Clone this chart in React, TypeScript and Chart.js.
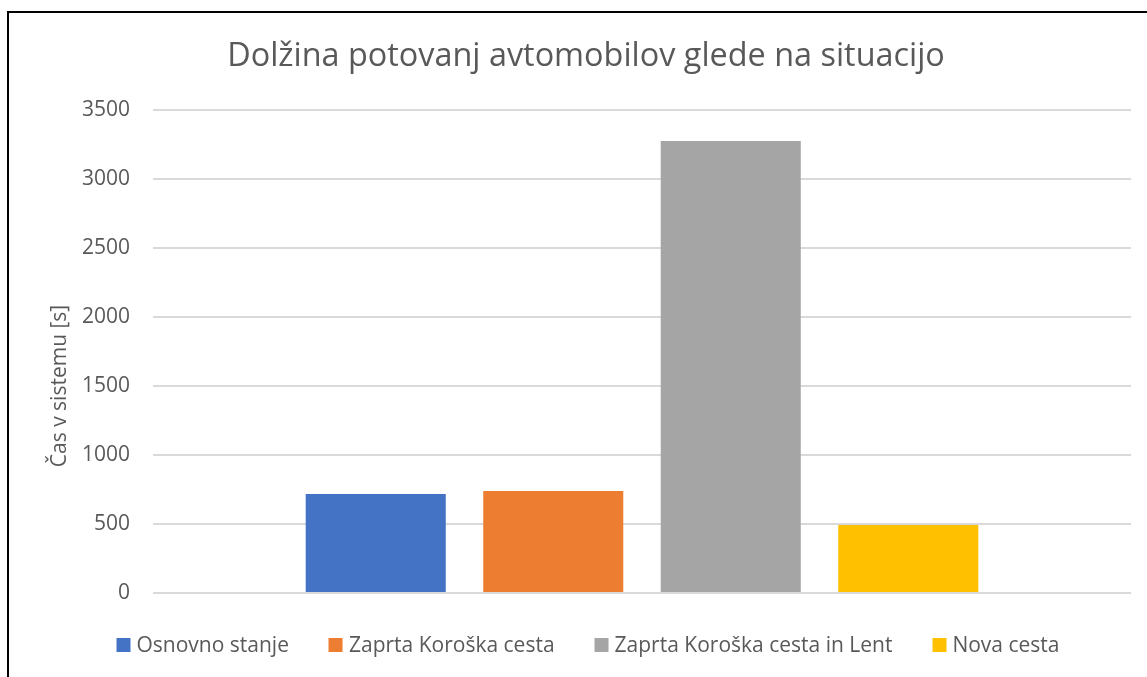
import React, { useEffect, useRef } from "react";
import { Chart, registerables } from "chart.js";

Chart.register(...registerables);

const titleText = "Dolžina potovanj avtomobilov glede na situacijo";
const yAxisTitle = "Čas v sistemu [s]";
const categories = [""];
const seriesNames = [
  "Osnovno stanje",
  "Zaprta Koroška cesta",
  "Zaprta Koroška cesta in Lent",
  "Nova cesta",
];
const seriesValues = [717, 739, 3275, 493];
const seriesColors = ["#4472C4", "#ED7D31", "#A5A5A5", "#FFC000"];
const yMin = 0;
const yMax = 3500;
const yStep = 500;

const FONT = "'Open Sans', sans-serif";
const TEXT = "#595959";

export default function App() {
  const canvasRef = useRef<HTMLCanvasElement | null>(null);

  useEffect(() => {
    document.body.style.margin = "0";
    const ctx = canvasRef.current;
    if (!ctx) return;
    const chart = new Chart(ctx, {
      type: "bar",
      data: {
        labels: categories,
        datasets: seriesNames.map((name, i) => ({
          label: name,
          data: [seriesValues[i]],
          backgroundColor: seriesColors[i],
          borderWidth: 0,
          categoryPercentage: 0.726,
          barPercentage: 0.789,
        })),
      },
      options: {
        animation: false,
        responsive: false,
        maintainAspectRatio: false,
        layout: { padding: { top: 110, right: 16, left: 0, bottom: 0 } },
        plugins: {
          legend: { display: false },
          title: { display: false },
          tooltip: { enabled: false },
        },
        scales: {
          x: {
            offset: true,
            grid: { display: false },
            border: { display: false },
            ticks: { display: false },
            afterFit: (scale: any) => {
              scale.height = 84;
            },
          },
          y: {
            min: yMin,
            max: yMax,
            border: { display: false },
            grid: { color: "#D9D9D9", lineWidth: 2, drawTicks: false },
            ticks: {
              stepSize: yStep,
              padding: 23,
              color: TEXT,
              font: { family: FONT, size: 21 },
              callback: (v: any) => String(v),
            },
            afterFit: (scale: any) => {
              scale.width = 153;
            },
          },
        },
      },
    });
    return () => chart.destroy();
  }, []);

  return (
    <div style={{ position: "relative", width: 1147, height: 677, overflow: "hidden", background: "#fff" }}>
      <canvas ref={canvasRef} width={1147} height={677} style={{ position: "absolute", left: 0, top: 0 }} />
      <div
        style={{
          position: "absolute",
          left: 7,
          top: 11,
          width: 2000,
          height: 2000,
          borderLeft: "2px solid #000",
          borderTop: "2px solid #000",
          pointerEvents: "none",
        }}
      />
      <div
        style={{
          position: "absolute",
          left: 586,
          top: 37,
          transform: "translateX(-50%)",
          whiteSpace: "nowrap",
          fontFamily: FONT,
          fontSize: 32.4,
          lineHeight: "32px",
          color: TEXT,
        }}
      >
        {titleText}
      </div>
      <div
        style={{
          position: "absolute",
          left: 58,
          top: 386,
          transform: "translate(-50%, -50%) rotate(-90deg)",
          whiteSpace: "nowrap",
          fontFamily: FONT,
          fontSize: 21,
          lineHeight: "21px",
          color: TEXT,
        }}
      >
        {yAxisTitle}
      </div>
      <div
        style={{
          position: "absolute",
          left: 588,
          top: 634,
          transform: "translateX(-50%)",
          display: "flex",
          alignItems: "center",
          gap: 40,
          whiteSpace: "nowrap",
          fontFamily: FONT,
          fontSize: 21,
          lineHeight: "21px",
          color: TEXT,
        }}
      >
        {seriesNames.map((name, i) => (
          <div key={name} style={{ display: "flex", alignItems: "center", gap: 6 }}>
            <span style={{ display: "inline-block", width: 14, height: 14, background: seriesColors[i] }} />
            <span>{name}</span>
          </div>
        ))}
      </div>
    </div>
  );
}
